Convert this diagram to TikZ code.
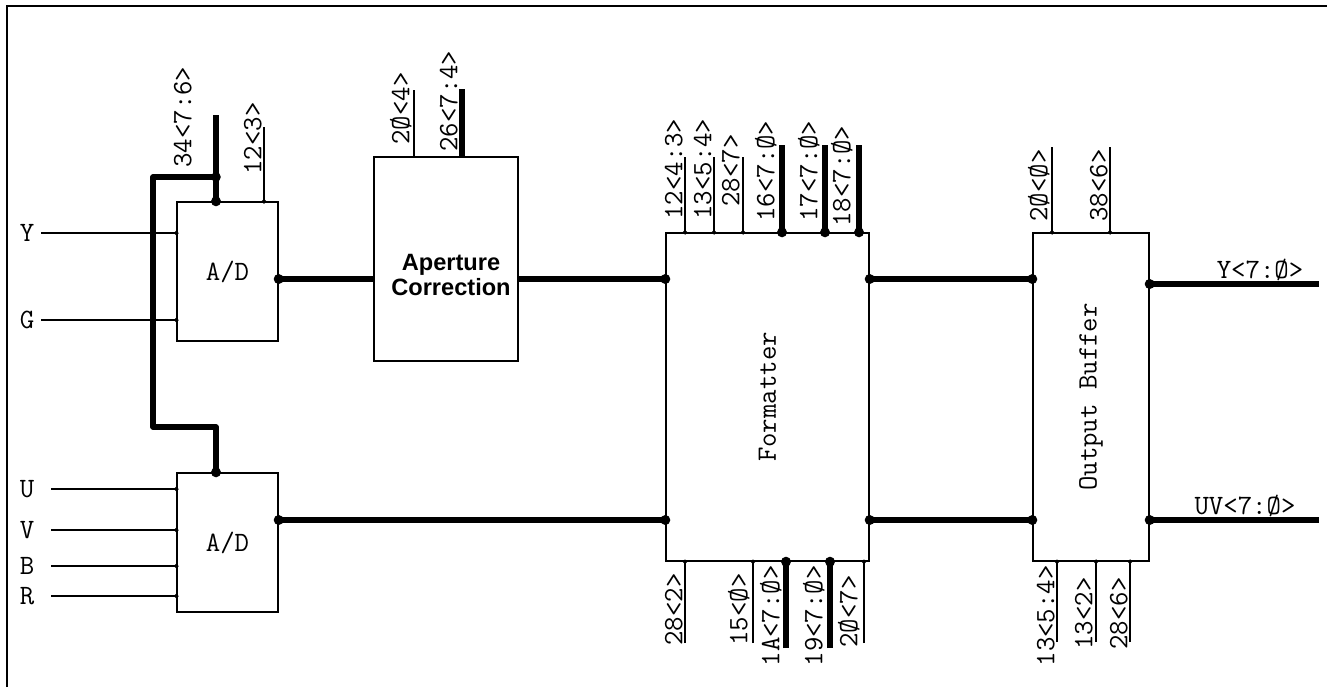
\documentclass[tikz,border=0pt]{standalone}
\usepackage{fontspec}
\newfontfamily\blkfont{Liberation Sans}
\usepackage{tikz}
\usetikzlibrary{arrows.meta}

\begin{document}
\begin{tikzpicture}[
    x=0.5pt, y=-0.5pt,
    every node/.style={font=\ttfamily\fontsize{14}{16}\selectfont},
    blk/.style={draw,line width=0.7pt,inner sep=0pt},
    wire/.style={line width=0.6pt},
    bus/.style={line width=2.7pt,line join=round},
    pin/.style={wire,shorten >=-1.1pt,-{Circle[length=2.2pt]}},
    buspin/.style={bus,shorten >=-2.4pt,-{Circle[length=4.8pt]}},
    busstart/.style={bus,shorten <=-2.4pt,{Circle[length=4.8pt]}-},
    busboth/.style={bus,shorten <=-2.4pt,shorten >=-2.4pt,{Circle[length=4.8pt]}-{Circle[length=4.8pt]}},
    plbl/.style={rotate=90,inner sep=0pt}
  ]
    \useasboundingbox (0,0) rectangle (1327,687);
    \draw[line width=1pt] (7,687) -- (7,6) -- (1327,6);

    \node[blk,minimum width=50.5pt,minimum height=69.5pt] (ad1) at (227.5,271.5) {A/D};
    \node[blk,minimum width=50.5pt,minimum height=69.5pt] (ad2) at (227.5,542.5) {A/D};
    \node[blk,minimum width=72pt,minimum height=102pt] (apt) at (446,259) {};
    \node[font=\blkfont\bfseries\fontsize{11.8}{12.5}\selectfont,align=center] (apttxt) at (451,275) {Aperture\\Correction};
    \node[blk,minimum width=101.5pt,minimum height=164pt,label={[rotate=90]center:Formatter}] (fmt) at (767.5,397) {};
    \node[blk,minimum width=58pt,minimum height=164pt,label={[rotate=90]center:Output Buffer}] (obuf) at (1091,397) {};

    \coordinate (rA) at (0,279);
    \coordinate (rB) at (0,520);

    \node (lY) at (27,233) {Y};
    \node (lG) at (27,320) {G};
    \node (lU) at (27,489) {U};
    \node (lV) at (27,530) {V};
    \node (lB) at (27,566) {B};
    \node (lR) at (27,596) {R};
    \coordinate (sY) at (41,233); \draw[pin] (sY) -- (sY -| ad1.west);
    \coordinate (sG) at (41,320); \draw[pin] (sG) -- (sG -| ad1.west);
    \coordinate (sU) at (51,489); \draw[pin] (sU) -- (sU -| ad2.west);
    \coordinate (sV) at (51,530); \draw[pin] (sV) -- (sV -| ad2.west);
    \coordinate (sB) at (51,566); \draw[pin] (sB) -- (sB -| ad2.west);
    \coordinate (sR) at (51,596); \draw[pin] (sR) -- (sR -| ad2.west);

    \coordinate (bT) at (216,115);
    \coordinate (jA) at (216,177);
    \draw[buspin] (bT) -- (bT |- ad1.north);
    \fill (jA) circle (2.4pt);
    \draw[buspin] (jA) -- (153,177) -- (153,427) -- (216,427) -- (jA |- ad2.north);
    \coordinate (p12) at (264,127); \draw[pin] (p12) -- (p12 |- ad1.north);
    \node[plbl,anchor=south west] (t34) at (192,168) {34<7:6>};
    \node[plbl,anchor=south west] (t12) at (262,175) {12<3>};

    \coordinate (a20) at (414,90); \draw[wire] (a20) -- (a20 |- apt.north);
    \coordinate (a26) at (462,89); \draw[bus] (a26) -- (a26 |- apt.north);
    \node[plbl,anchor=south west] (ta20) at (412,145) {2Ø<4>};
    \node[plbl,anchor=south west] (ta26) at (458,152) {26<7:4>};

    \draw[busstart] (ad1.east |- rA) -- (apt.west |- rA);
    \draw[buspin] (apt.east |- rA) -- (fmt.west |- rA);
    \draw[busboth] (fmt.east |- rA) -- (obuf.west |- rA);
    \draw[busboth] (ad2.east |- rB) -- (fmt.west |- rB);
    \draw[busboth] (fmt.east |- rB) -- (obuf.west |- rB);

    \coordinate (f12) at (685,157); \draw[pin] (f12) -- (f12 |- fmt.north);
    \coordinate (f13) at (714,157); \draw[pin] (f13) -- (f13 |- fmt.north);
    \coordinate (f28) at (743,157); \draw[pin] (f28) -- (f28 |- fmt.north);
    \coordinate (f16) at (782,145); \draw[buspin] (f16) -- (f16 |- fmt.north);
    \coordinate (f17) at (825,145); \draw[buspin] (f17) -- (f17 |- fmt.north);
    \coordinate (f18) at (859,145); \draw[buspin] (f18) -- (f18 |- fmt.north);
    \node[plbl,anchor=south west] (tf12) at (683,220) {12<4:3>};
    \node[plbl,anchor=south west] (tf13) at (712,220) {13<5:4>};
    \node[plbl,anchor=south west] (tf28) at (740,207) {28<7>};
    \node[plbl,anchor=south west] (tf16) at (777,222) {16<7:Ø>};
    \node[plbl,anchor=south west] (tf17) at (820,222) {17<7:Ø>};
    \node[plbl,anchor=south west] (tf18) at (853,227) {18<7:Ø>};

    \coordinate (g28) at (685,643); \draw[pin] (g28) -- (g28 |- fmt.south);
    \coordinate (g15) at (753,643); \draw[pin] (g15) -- (g15 |- fmt.south);
    \coordinate (g1A) at (786,648); \draw[buspin] (g1A) -- (g1A |- fmt.south);
    \coordinate (g19) at (830,648); \draw[buspin] (g19) -- (g19 |- fmt.south);
    \coordinate (g20) at (864,643); \draw[pin] (g20) -- (g20 |- fmt.south);
    \node[plbl,anchor=south east] (tg28) at (683,573) {28<2>};
    \node[plbl,anchor=south east] (tg15) at (750,573) {15<Ø>};
    \node[plbl,anchor=south east] (tg1A) at (782,565) {1A<7:Ø>};
    \node[plbl,anchor=south east] (tg19) at (825,565) {19<7:Ø>};
    \node[plbl,anchor=south east] (tg20) at (860,575) {2Ø<7>};

    \coordinate (o20) at (1052,147); \draw[pin] (o20) -- (o20 |- obuf.north);
    \coordinate (o38) at (1110,147); \draw[pin] (o38) -- (o38 |- obuf.north);
    \node[plbl,anchor=south west] (to20) at (1050,222) {2Ø<Ø>};
    \node[plbl,anchor=south west] (to38) at (1108,222) {38<6>};
    \coordinate (u13a) at (1057,642); \draw[pin] (u13a) -- (u13a |- obuf.south);
    \coordinate (u13b) at (1096,642); \draw[pin] (u13b) -- (u13b |- obuf.south);
    \coordinate (u28) at (1130,642); \draw[pin] (u28) -- (u28 |- obuf.south);
    \node[plbl,anchor=south east] (tu13a) at (1055,565) {13<5:4>};
    \node[plbl,anchor=south east] (tu13b) at (1093,577) {13<2>};
    \node[plbl,anchor=south east] (tu28) at (1128,577) {28<6>};

    \coordinate (oY) at (1319,284);
    \coordinate (oUV) at (1319,520);
    \draw[busstart] (oY -| obuf.east) -- (oY);
    \draw[busstart] (oUV -| obuf.east) -- (oUV);
    \node[anchor=base] (lYo) at (1260,278) {Y<7:Ø>};
    \node[anchor=base] (lUVo) at (1245,514) {UV<7:Ø>};
  \end{tikzpicture}
\end{document}
